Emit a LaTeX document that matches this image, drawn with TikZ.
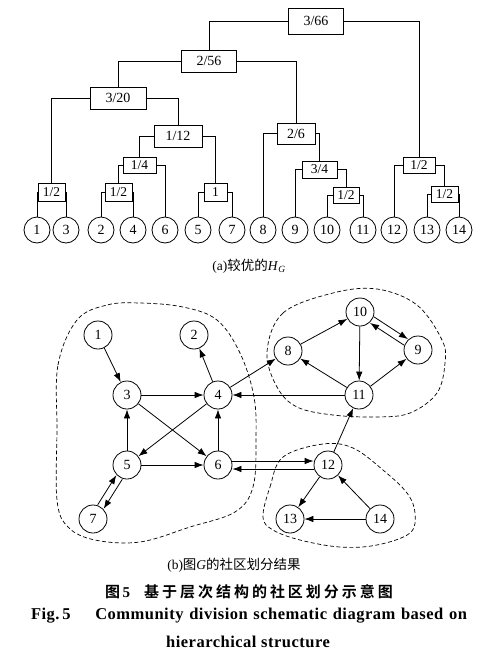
\documentclass[tikz,border=0pt]{standalone}
\usepackage{fontspec}
\setmainfont{Liberation Serif}
\newfontfamily\cjk{Noto Sans CJK SC}[BoldFont={* Bold}]
\usetikzlibrary{arrows.meta}

\begin{document}
\begin{tikzpicture}[x=1pt, y=-1pt, line width=0.8pt,
    every node/.style={font=\fontsize{14}{14}\selectfont},
    wbox/.style={draw, fill=white, minimum width=#1, minimum height=22, inner sep=1pt},
    sbox/.style={draw, fill=white, minimum width=#1, minimum height=16, inner sep=1pt,
        font=\fontsize{13.5}{13.5}\selectfont},
    leaf/.style={circle, draw, minimum size=26, inner sep=0pt},
    vtx/.style={circle, draw, minimum size=28, inner sep=0pt},
    arr/.style={-{Latex[length=9pt,width=6.5pt]}},
    comm/.style={dashed, line width=0.7pt, dash pattern=on 4pt off 2.5pt},
    captxt/.style={font=\fontsize{13.5}{13.5}\selectfont},
    ttl/.style={font=\fontsize{16.5}{16.5}\selectfont\bfseries\addfontfeature{LetterSpace=3}}]
    \useasboundingbox (0,0) rectangle (495,662);

    % (a) arbol jerarquico H_G
    \node[wbox=55, minimum height=26] (b366) at (316,21) {3/66};
    \node[wbox=55] (b256) at (209,61) {2/56};
    \node[wbox=56] (b320) at (118,98) {3/20};
    \node[wbox=48] (b112) at (178,136) {1/12};
    \node[sbox=33] (b14) at (139.5,165.5) {1/4};
    \node[sbox=27, minimum height=18] (b12a) at (51.5,192) {1/2};
    \node[sbox=27, minimum height=18] (b12b) at (118.5,192) {1/2};
    \node[sbox=23, minimum height=18] (b1) at (215.5,192) {1};
    \node[wbox=38, minimum height=21] (b26) at (296,133.5) {2/6};
    \node[sbox=35, minimum height=17] (b34) at (319.5,169.5) {3/4};
    \node[sbox=26] (b12c) at (346,195) {1/2};
    \node[sbox=32] (b12d) at (419,165.5) {1/2};
    \node[sbox=27] (b12e) at (444.5,194) {1/2};

    % hojas
    \foreach \n/\x in {1/37, 3/66, 2/101, 4/133, 6/165, 5/198, 7/232,
                       8/263, 9/295, 10/327, 11/363, 12/394, 13/427, 14/459}
        \node[leaf] (l\n) at (\x,230) {\n};

    % ramas izquierdas y derechas
    \foreach \p/\c in {b366/b256, b256/b320, b320/b12a, b112/b14, b14/b12b,
                       b12a/l1, b12b/l2, b1/l5, b26/l8, b34/l9, b12c/l10,
                       b12d/l12, b12e/l13}
        \draw (\p.west) -| (\c.north);
    \foreach \p/\c in {b366/b12d, b256/b26, b320/b112, b112/b1, b14/l6,
                       b12a/l3, b12b/l4, b1/l7, b26/b34, b34/b12c, b12c/l11,
                       b12d/b12e, b12e/l14}
        \draw (\p.east) -| (\c.north);

    \node[captxt] (capa) at (249,266) {(a){\cjk 较优的}\textit{H}\textsubscript{\textit{G}}};

    % (b) comunidades del grafo G
    \draw[comm] plot[smooth cycle, tension=0.6] coordinates {(57,430) (58,365) (77,320)
        (107,305) (140,303) (183,307) (217,320) (240,353) (254,397) (256,440)
        (253,487) (235,512) (190,527) (140,542) (95,540) (68,527) (57,500)};
    \draw[comm] plot[smooth cycle, tension=0.6] coordinates {(267,352) (283,313)
        (333,293) (377,289) (417,305) (442,340) (445,363) (437,393) (410,413)
        (377,417) (333,415) (297,407) (277,387)};
    \draw[comm] plot[smooth cycle, tension=0.6] coordinates {(263,517) (270,487)
        (283,457) (323,444) (353,448) (383,470) (407,493) (415,513) (410,533)
        (377,545) (340,547) (300,540) (273,530)};

    % vertices
    \foreach \n/\x/\y in {1/98/335, 2/194/335, 3/127/395, 4/218/395, 5/127/465,
                          6/218/465, 7/93/519, 8/288/351, 9/418/350, 10/360/312,
                          11/359/395, 12/328/465, 13/290/519, 14/380/519}
        \node[vtx] (v\n) at (\x,\y) {\n};

    % aristas dirigidas
    \foreach \a/\b in {1/3, 4/2, 3/4, 3/6, 4/5, 5/3, 6/4, 5/6, 4/8, 11/4,
                       8/10, 10/11, 11/8, 11/9, 12/11, 12/13, 14/12, 14/13}
        \draw[arr] (v\a) -- (v\b);

    % aristas dobles
    \draw[arr, transform canvas={shift={(-3pt,2pt)}}] (v7) -- (v5);
    \draw[arr, transform canvas={shift={(3pt,-2pt)}}] (v5) -- (v7);
    \draw[arr, transform canvas={shift={(2pt,3pt)}}] (v10) -- (v9);
    \draw[arr, transform canvas={shift={(-2pt,-3pt)}}] (v9) -- (v10);
    \draw[arr, transform canvas={shift={(0pt,4pt)}}] (v6) -- (v12);
    \draw[arr, transform canvas={shift={(0pt,-4pt)}}] (v12) -- (v6);

    \node[captxt] (capb) at (234,565) {(b){\cjk 图}\textit{G}{\cjk 的社区划分结果}};

    % titulo
    \node[font=\fontsize{15}{15}\selectfont\bfseries] (tzh) at (249,592)
        {{\cjk 图}\,5\hspace{14pt}{\cjk\addfontfeature{LetterSpace=20}基于层次结构的社区划分示意图}};
    \node[ttl] (ten) at (249,616)
        {\makebox[436pt][s]{Fig.\,5\hspace{1.5em}Community division schematic diagram based on}};
    \node[ttl] (ten2) at (248,642) {hierarchical structure};
\end{tikzpicture}
\end{document}
